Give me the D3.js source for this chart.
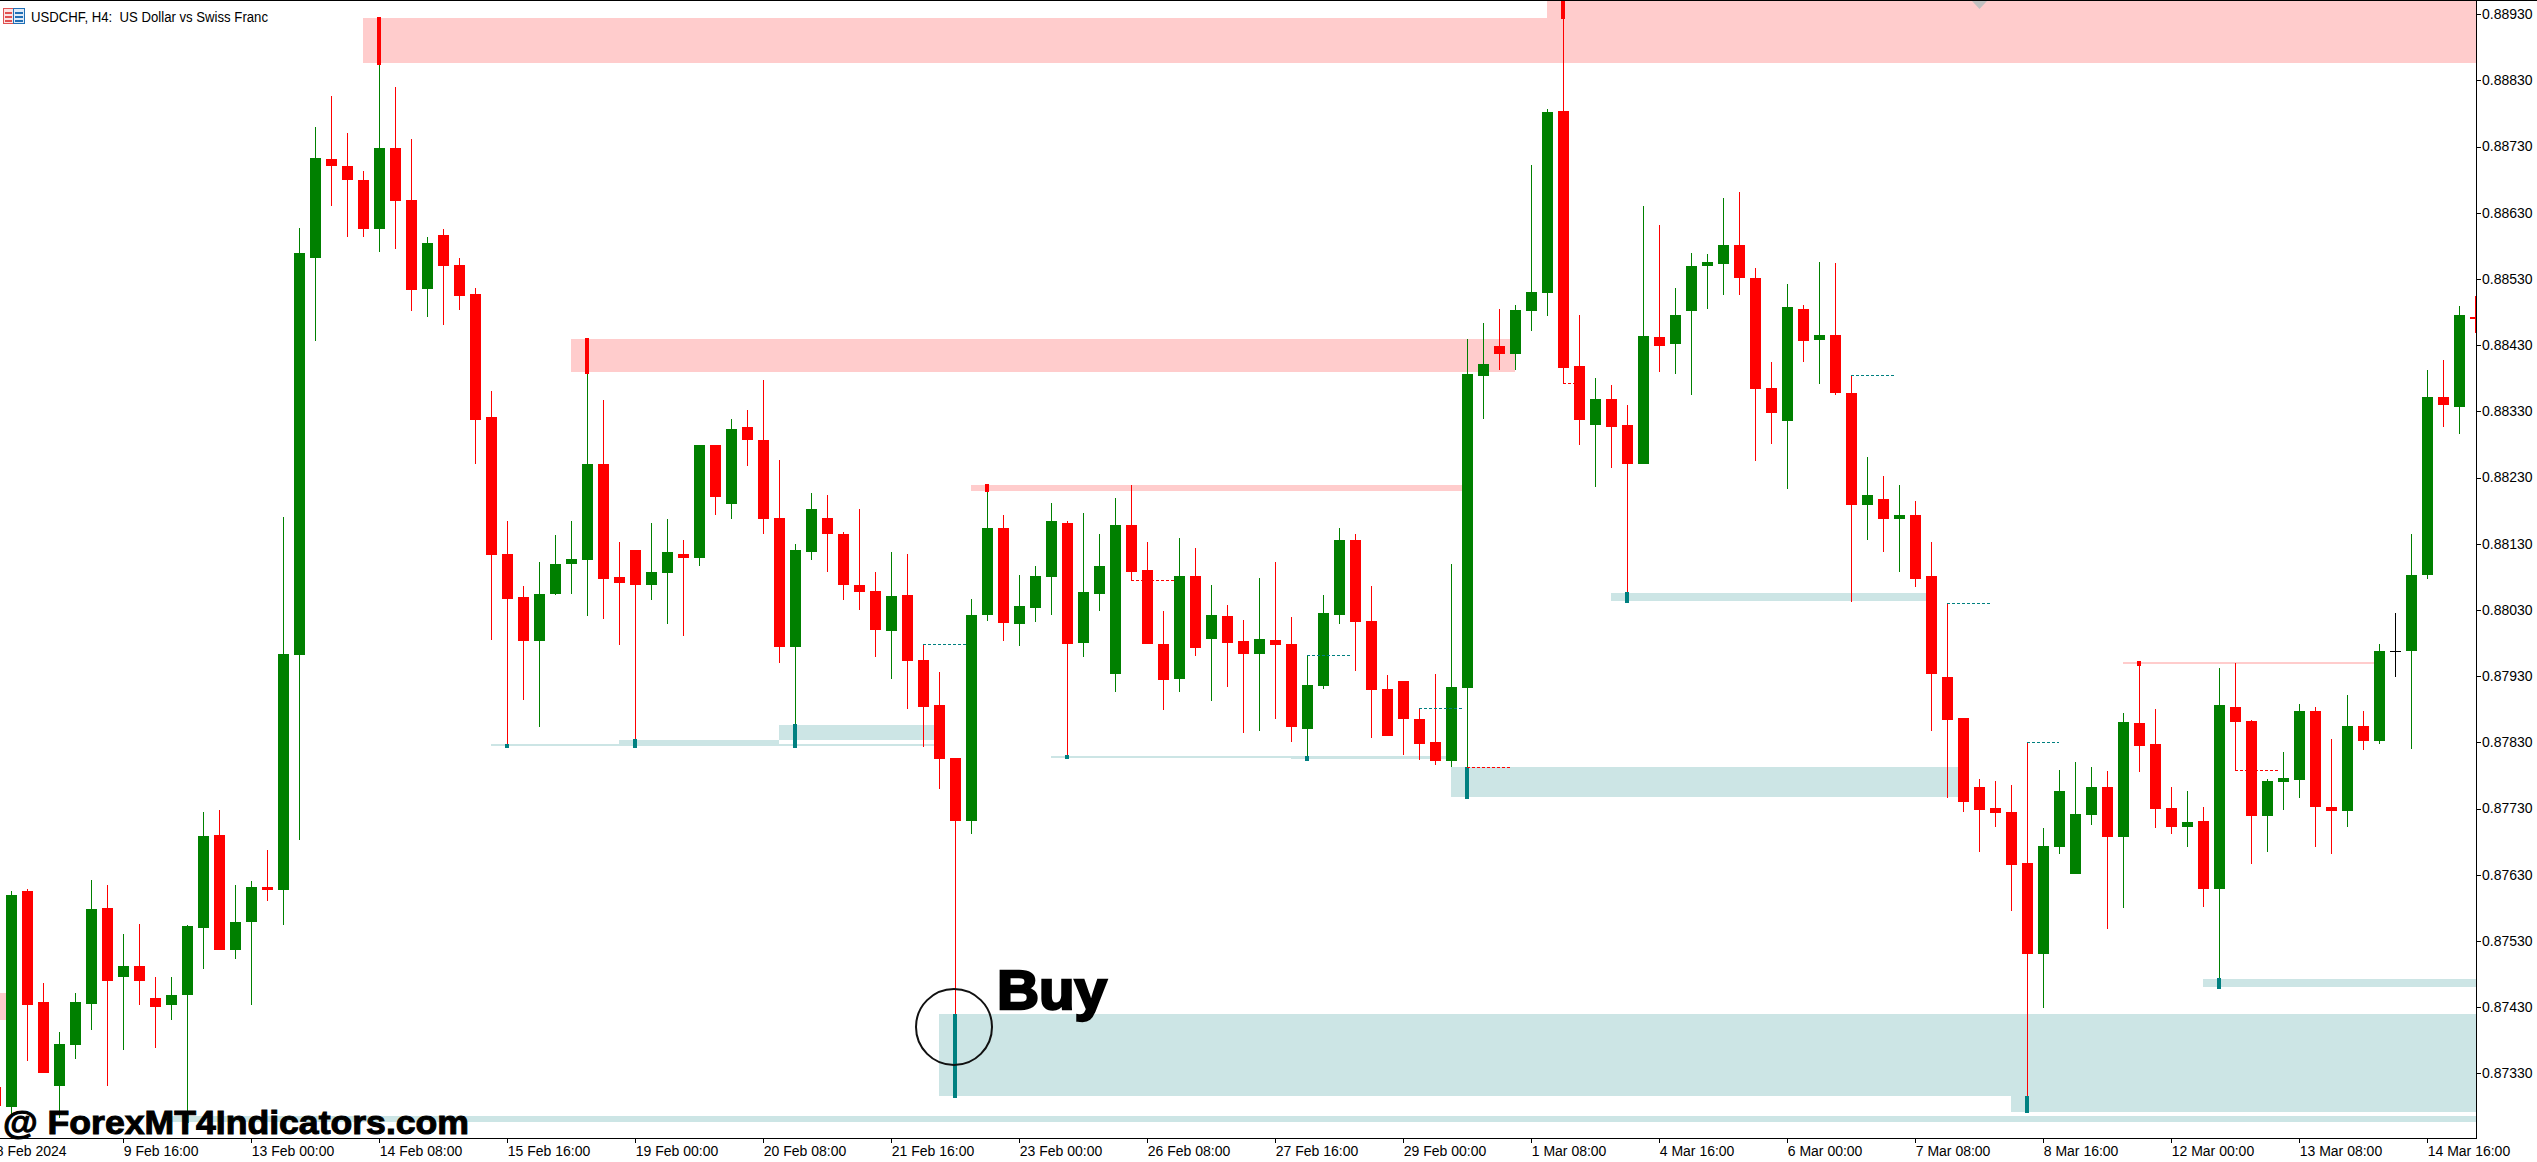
<!DOCTYPE html>
<html><head><meta charset="utf-8">
<style>html,body{margin:0;padding:0;background:#fff;overflow:hidden}svg{display:block}text{font-family:"Liberation Sans",Arial,sans-serif}</style>
<script src="https://cdn.jsdelivr.net/npm/d3@7"></script></head>
<body><svg id="c" width="2537" height="1162"></svg>
<script>
// All prices are in 1e-5 CHF (88930 = 0.88930). First bar has index -1.
const firstBar=-1;
const opens=[87309,87279,87605,87437,87311,87372,87435,87579,87475,87492,87443,87433,87448,87549,87690,87516,87558,87611,87607,87962,88562,88711,88700,88680,88605,88727,88649,88514,88597,88551,88507,88321,88114,88049,87983,88054,88100,88106,88250,88079,88121,88068,88085,88115,88109,88279,88190,88306,88287,88169,87974,88118,88169,88144,88068,88058,87998,88053,87954,87886,87807,87711,88023,88153,88008,88033,88079,88162,87980,88054,87933,88158,88090,87979,87925,88081,87986,88021,87983,87964,87984,87979,87850,87915,88023,88136,88013,87910,87922,87865,87830,87801,87912,88383,88428,88416,88481,88508,88783,88398,88310,88349,88309,88250,88442,88431,88481,88549,88552,88581,88532,88365,88315,88485,88437,88445,88358,88189,88197,88168,88174,88081,87929,87866,87762,87731,87724,87647,87510,87672,87631,87720,87762,87687,87859,87827,87731,87702,87711,87609,87883,87862,87718,87770,87773,87877,87733,87726,87855,87832,87968,87968,88082,88352,88336,88473];
const highs=[87320,87605,87609,87466,87393,87452,87622,87615,87540,87555,87476,87476,87554,87724,87727,87615,87620,87668,88171,88607,88759,88807,88751,88693,88925,88820,88742,88594,88605,88562,88517,88360,88165,88066,88102,88143,88165,88440,88347,88133,88121,88161,88167,88136,88279,88279,88319,88332,88377,88257,88130,88206,88203,88148,88182,88087,88118,88115,87978,87936,87807,88046,88220,88173,88083,88097,88192,88164,88177,88144,88199,88218,88133,88028,88138,88124,88068,88037,88014,88078,88103,88019,87961,88053,88154,88145,88066,87931,87922,87881,87933,88100,88439,88464,88485,88490,88702,88786,88960,88476,88380,88369,88339,88640,88612,88516,88569,88567,88652,88661,88547,88404,88522,88491,88555,88554,88384,88261,88232,88218,88195,88132,88039,87867,87774,87771,87765,87830,87700,87788,87800,87792,87786,87874,87952,87880,87762,87757,87733,87942,87950,87863,87774,87815,87888,87884,87835,87901,87877,87979,88025,88145,88393,88408,88489,88504];
const lows=[87260,87267,87348,87330,87262,87352,87396,87311,87365,87433,87368,87411,87259,87487,87516,87502,87433,87591,87554,87682,88436,88640,88594,88594,88570,88575,88481,88472,88461,88483,88250,87985,87825,87894,87853,88053,88054,88021,88016,87977,87821,88045,88009,87991,88096,88173,88168,88248,88145,87950,87821,88106,88087,88045,88030,87959,87925,87881,87823,87759,87292,87692,88013,87983,87975,88012,88022,87805,87959,88028,87906,88074,87979,87879,87906,87960,87892,87913,87844,87847,87865,87830,87802,87910,88008,87938,87836,87840,87811,87803,87796,87792,87744,88319,88392,88392,88452,88474,88372,88279,88215,88245,88040,88250,88389,88386,88354,88485,88505,88505,88255,88281,88212,88404,88371,88354,88042,88136,88117,88087,88065,87847,87746,87724,87664,87702,87575,87270,87428,87662,87631,87705,87548,87579,87785,87700,87692,87672,87581,87457,87787,87646,87664,87727,87746,87672,87661,87702,87818,87827,87929,87820,88076,88307,88295,88448];
const closes=[87281,87600,87433,87330,87375,87437,87578,87470,87492,87470,87430,87448,87552,87688,87516,87558,87611,87607,87964,88569,88712,88700,88679,88605,88727,88647,88513,88584,88549,88504,88317,88113,88047,87983,88054,88100,88107,88250,88076,88071,88068,88087,88117,88109,88279,88200,88304,88286,88168,87974,88120,88182,88144,88068,88057,88000,88051,87953,87883,87805,87711,88022,88154,88010,88036,88081,88164,87979,88057,88097,88158,88088,87979,87924,88081,87972,88022,87980,87964,87986,87977,87853,87916,88025,88136,88012,87909,87840,87865,87827,87801,87913,88386,88401,88416,88483,88510,88782,88395,88317,88349,88307,88250,88443,88429,88475,88549,88555,88581,88532,88363,88327,88487,88436,88445,88358,88188,88204,88168,88173,88076,87933,87863,87740,87727,87723,87644,87510,87673,87756,87722,87762,87687,87860,87825,87729,87702,87709,87609,87886,87860,87718,87771,87776,87877,87732,87726,87855,87832,87968,87968,88083,88352,88339,88476,88470];

// Supply and demand zones: first bar, last bar, upper price, lower price
const sellZones=[[-1,0,87451,87411],[22,154.05,88924,88856],[96,154.05,88960,88856],[35,94,88439,88389],[60,91,88218,88210],[132,148,87952,87948]];
const buyZones=[[10,154.05,87265,87257],[30,58,87827,87824],[38,48,87833,87827],[48,58,87856,87833],[65,80,87809,87807],[80,90,87809,87805],[90,122,87792,87747],[100,120,88055,88043],[58,154.05,87419,87295],[125,154.05,87295,87272],[137,154.05,87472,87460]];
// Thick markers on the wick that made a zone: bar, upper price, lower price
const buyMarks=[[11,87267,87255],[31,87828,87821],[39,87835,87821],[49,87857,87821],[59,87420,87292],[66,87811,87805],[81,87809,87802],[91,87793,87744],[101,88057,88040],[126,87296,87270],[138,87474,87457]];
const sellMarks=[[23,88925,88853],[36,88440,88386],[61,88220,88208],[97,88960,88922],[133,87953,87945]];
// Dotted level lines: first bar, last bar, price
const buyDots=[[57,59.8,87978],[81,83.8,87961],[88,90.8,87881],[115,117.8,88384],[121,123.8,88039],[126,128,87830]];
const sellDots=[[70,72.7,88074],[91,93.8,87792],[139,141.8,87787],[97,98,88372]];

const yTicks=[88930,88830,88730,88630,88530,88430,88330,88230,88130,88030,87930,87830,87730,87630,87530,87430,87330];
const xTickBars=[-1,7,15,23,31,39,47,55,63,71,79,87,95,103,111,119,127,135,143,151];
const xTickLabels=["8 Feb 2024","9 Feb 16:00","13 Feb 00:00","14 Feb 08:00","15 Feb 16:00","19 Feb 00:00","20 Feb 08:00","21 Feb 16:00","23 Feb 00:00","26 Feb 08:00","27 Feb 16:00","29 Feb 00:00","1 Mar 08:00","4 Mar 16:00","6 Mar 00:00","7 Mar 08:00","8 Mar 16:00","12 Mar 00:00","13 Mar 08:00","14 Mar 16:00"];

const W=2537,H=1162,plotR=2476,plotB=1138;
const GREEN="#008000",RED="#ff0000",TEAL="#008080",PINK="#ffcccc",AQUA="#cce5e5";
const x=d3.scaleLinear().domain([-1,154]).range([-4.8,2475.2]);
const y=d3.scaleLinear().domain([88930,87330]).range([14.1,1073.3]);
const bars=opens.map((o,i)=>({k:i+firstBar,o,h:highs[i],l:lows[i],c:closes[i]}));
const svg=d3.select("#c");
svg.append("rect").attr("width",W).attr("height",H).attr("fill","#fff");
svg.append("defs").append("clipPath").attr("id","plot").append("rect").attr("x",0).attr("y",1).attr("width",plotR).attr("height",plotB-1);
const g=svg.append("g").attr("clip-path","url(#plot)").attr("shape-rendering","crispEdges");

function zones(list,fill){
  g.append("g").selectAll("rect").data(list).join("rect")
   .attr("x",d=>x(d[0])).attr("width",d=>x(d[1])-x(d[0]))
   .attr("y",d=>y(d[2])).attr("height",d=>y(d[3])-y(d[2])).attr("fill",fill);
}
zones(sellZones,PINK); zones(buyZones,AQUA);

const col=d=>d.c>d.o?GREEN:(d.c<d.o?RED:"#000");
const gb=g.append("g");
gb.selectAll("rect.w").data(bars).join("rect").attr("class","w")
  .attr("x",d=>Math.round(x(d.k))-0.5).attr("width",1)
  .attr("y",d=>y(d.h)).attr("height",d=>y(d.l)-y(d.h)).attr("fill",col);
gb.selectAll("rect.b").data(bars).join("rect").attr("class","b")
  .attr("x",d=>Math.round(x(d.k))-5.5).attr("width",11)
  .attr("y",d=>y(Math.max(d.o,d.c))).attr("height",d=>Math.max(1,y(Math.min(d.o,d.c))-y(Math.max(d.o,d.c))))
  .attr("fill",col);

function marks(list,fill){
  g.append("g").selectAll("rect").data(list).join("rect")
   .attr("x",d=>Math.round(x(d[0]))-2.5).attr("width",4)
   .attr("y",d=>y(d[1])).attr("height",d=>y(d[2])-y(d[1])).attr("fill",fill);
}
marks(buyMarks,TEAL); marks(sellMarks,RED);
function dots(list,stroke){
  g.append("g").selectAll("line").data(list).join("line")
   .attr("x1",d=>x(d[0])).attr("x2",d=>x(d[1])).attr("y1",d=>y(d[2])).attr("y2",d=>y(d[2]))
   .attr("stroke",stroke).attr("stroke-width",1).attr("stroke-dasharray","3,2");
}
dots(buyDots,TEAL); dots(sellDots,RED);

// grey arrow at the top of the plot
svg.append("path").attr("d","M1972,1L1987,1L1979.5,9Z").attr("fill","#c0c0c0");

// axes
const yAxis=d3.axisRight(y).tickValues(yTicks).tickSize(5).tickPadding(1).tickFormat(v=>(v/1e5).toFixed(5));
const ya=svg.append("g").attr("transform",`translate(${plotR},0)`).call(yAxis);
ya.select(".domain").remove();
ya.selectAll("text").attr("font-size",14).attr("font-family","Liberation Sans").attr("fill","#000");
const xAxis=d3.axisBottom(x).tickValues(xTickBars).tickSize(5).tickPadding(3).tickFormat((v,i)=>xTickLabels[i]);
const xa=svg.append("g").attr("transform",`translate(0,${plotB})`).call(xAxis);
xa.select(".domain").remove();
xa.selectAll("text").attr("text-anchor","start").attr("font-size",14).attr("font-family","Liberation Sans").attr("fill","#000");
svg.selectAll(".tick line").attr("stroke","#000").attr("shape-rendering","crispEdges");
svg.append("rect").attr("x",0).attr("y",0).attr("width",W).attr("height",1).attr("fill","#000");
svg.append("rect").attr("x",plotR).attr("y",0).attr("width",1).attr("height",plotB+1).attr("fill","#000");
svg.append("rect").attr("x",0).attr("y",plotB).attr("width",plotR).attr("height",1).attr("fill","#000");

// header
const ic=svg.append("g").attr("shape-rendering","crispEdges");
ic.append("rect").attr("x",3.5).attr("y",8.5).attr("width",10).attr("height",15).attr("fill","#fbe3e3").attr("stroke","#e05050");
ic.append("rect").attr("x",13.5).attr("y",8.5).attr("width",11).attr("height",15).attr("fill","#dfeaf8").attr("stroke","#1f6fb5");
[12,16,20].forEach(v=>{ic.append("rect").attr("x",5).attr("y",v).attr("width",7).attr("height",2).attr("fill","#e05050");ic.append("rect").attr("x",15).attr("y",v).attr("width",8).attr("height",2).attr("fill","#1f6fb5");});
svg.append("text").attr("x",31).attr("y",22).attr("font-size",14).attr("textLength",237).attr("lengthAdjust","spacingAndGlyphs").attr("xml:space","preserve").text("USDCHF, H4:  US Dollar vs Swiss Franc");

// annotations
svg.append("circle").attr("cx",954).attr("cy",1027).attr("r",38).attr("fill","none").attr("stroke","#111").attr("stroke-width",2);
svg.append("text").attr("x",997).attr("y",1009).attr("font-size",55).attr("font-weight",700).attr("fill","#000").attr("stroke","#000").attr("stroke-width",2.4).attr("textLength",110).attr("lengthAdjust","spacingAndGlyphs").text("Buy");
svg.append("text").attr("x",3).attr("y",1134).attr("font-size",33).attr("font-weight",700).attr("fill","#000").attr("stroke","#000").attr("stroke-width",1).attr("textLength",466).attr("lengthAdjust","spacingAndGlyphs").text("@ ForexMT4Indicators.com");
</script></body></html>
